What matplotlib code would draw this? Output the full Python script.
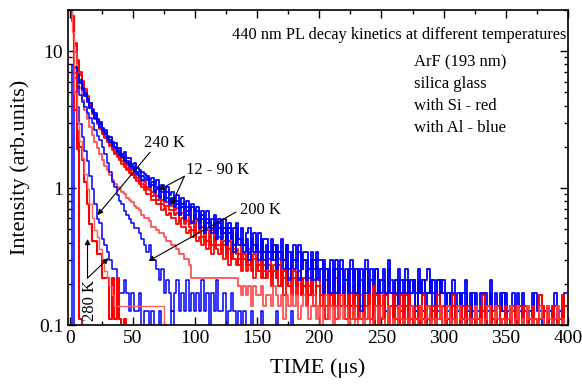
import matplotlib
matplotlib.use('Agg')
import matplotlib.pyplot as plt
import numpy as np
from matplotlib.ticker import MultipleLocator, LogLocator, NullFormatter, FixedFormatter, FixedLocator

plt.rcParams['font.family'] = ['Liberation Serif', 'DejaVu Serif']

# signal is stored as detector counts, one value every 2 us
blue_unit = 0.0425   # intensity of one count, Al-doped glass
red_unit = 0.0275    # intensity of one count, Si-doped glass
step_us = 2

# ---- blue (with Al) ----
blue_12K_t0 = 2
blue_12K = [188, 181, 161, 145, 127, 117, 105, 98, 88, 83,
            75, 72, 65, 63, 57, 56, 51, 50, 46, 46,
            42, 43, 39, 39, 35, 36, 33, 32, 31, 30,
            29, 27, 28, 25, 27, 24, 25, 22, 24, 21,
            22, 19, 21, 18, 20, 17, 19, 16, 18, 16,
            17, 14, 16, 13, 16, 13, 14, 15, 12, 14,
            11, 14, 11, 13, 10, 12, 13, 10, 12, 9,
            11, 12, 9, 11, 8, 11, 8, 10, 10, 8,
            10, 7, 9, 8, 10, 7, 9, 8, 7, 9,
            7, 9, 6, 8, 8, 6, 8, 6, 8, 7,
            7, 5, 6, 4, 7, 5, 6, 4, 7, 5,
            6, 4, 7, 5, 6, 4, 6, 5, 7, 4,
            6, 5, 6, 4, 5, 6, 4, 7, 5, 4,
            5, 6, 4, 5, 6, 4, 5, 5, 4, 6,
            5, 4, 5, 6, 4, 5, 3, 5, 4, 5,
            4, 3, 4, 5, 3, 4, 3, 4, 5, 3,
            4, 3, 4, 2, 4, 3, 4, 3, 5, 3,
            4, 2, 4, 3, 4, 2, 3, 4, 3, 2,
            3, 4, 2, 3, 3, 2, 4, 3, 2, 3,
            2, 3, 3, 2, 4, 3, 2, 3, 2]

blue_60K_t0 = 2
blue_60K = [187, 178, 158, 141, 124, 113, 102, 94, 86, 80,
            73, 69, 64, 60, 56, 53, 50, 47, 45, 43,
            41, 40, 37, 36, 34, 33, 31, 31, 29, 28,
            28, 25, 26, 24, 24, 22, 23, 20, 22, 19,
            20, 18, 19, 17, 18, 16, 17, 15, 17, 14,
            16, 13, 15, 12, 14, 13, 12, 14, 11, 13,
            11, 12, 10, 12, 11, 9, 12, 10, 10, 9,
            10, 8, 10, 9, 9, 8, 10, 7, 9, 8,
            8, 9, 7, 8, 8, 7, 9, 6, 8, 7,
            7, 8, 6, 7, 7, 6, 7, 5, 7, 6,
            6, 7, 5, 6, 4, 5, 7, 4, 6, 5,
            5, 6, 4, 6, 4, 6, 5, 4, 6, 4,
            5, 4, 6, 4, 5, 5, 4, 6, 4, 4,
            5, 3, 5, 5, 4, 5, 4, 5, 3, 5,
            4, 5, 3, 4, 5, 4, 3, 5, 4, 4]

blue_90K_t0 = 2
blue_90K = [186, 176, 155, 138, 122, 110, 100, 91, 84, 77,
            71, 66, 62, 58, 54, 51, 48, 46, 43, 41,
            40, 37, 36, 34, 33, 31, 30, 29, 27, 27,
            27, 24, 25, 22, 23, 20, 22, 19, 20, 18,
            19, 17, 18, 15, 17, 14, 16, 15, 13, 15,
            14, 12, 14, 11, 13, 12, 11, 13, 10, 12,
            10, 11, 9, 11, 10, 8, 11, 9, 10, 8,
            9, 7, 10, 8, 9, 7, 9, 8, 6, 8,
            7, 8, 6, 8, 7, 6, 8, 5, 7, 6,
            7, 5, 6, 7, 5, 6, 5, 7, 6, 5,
            6, 4, 6, 5, 4, 6, 4, 5, 6, 4,
            5, 4, 6, 5, 4, 5, 3, 5, 4, 5,
            5, 3, 4, 5, 4, 5, 3, 5, 4, 3,
            4, 5, 3, 4, 5, 3, 4, 5, 3, 4,
            5, 3, 4, 4, 5, 3, 4, 3, 5, 4,
            3, 4, 2, 4, 3, 3, 4, 2, 4, 3,
            2, 4, 3, 3, 2, 4, 3, 2, 4, 3,
            3, 2, 3, 4, 2, 3, 2, 3, 3, 4,
            2, 3, 3, 2, 3, 4, 2, 2, 3, 3,
            3, 2, 3, 2, 2, 3, 3, 2, 4]

blue_200K_t0 = 2
blue_200K = [188, 150, 130, 113, 100, 92, 83, 77, 70, 63,
             57, 53, 47, 42, 36, 31, 26, 24, 21, 19,
             18, 16, 15, 14, 13, 12, 12, 11, 10, 9,
             8, 9, 7, 7, 6, 5, 6, 4, 5, 4,
             3, 4, 5, 3, 4, 3, 5, 3, 4, 3,
             4, 3, 5, 3, 4, 2, 4, 3, 5, 3,
             3, 4, 2, 3, 4, 3, 2, 3, 2, 3,
             2, 2, 3, 2, 1, 2, 3, 2, 2, 1,
             2, 1, 3, 2, 1, 2, 1, 2, 3, 1,
             1, 2, 1, 1, 2, 1, 1, 1, 1, 1]

blue_240K_t0 = 2
blue_240K = [188, 118, 92, 69, 56, 44, 37, 29, 23, 18,
             14, 13, 10, 9, 8, 7, 6, 6, 5, 4,
             4, 5, 4, 3, 4, 3, 3, 4, 2, 3,
             3, 2, 3, 2, 2, 3, 2, 1, 2, 2,
             3, 1, 2, 2, 1, 2, 1, 2, 1, 1,
             1, 1, 2, 1, 1, 1, 1, 1, 1, 1]

blue_280K_t0 = 0
blue_280K = [1, 188, 2, 1]

# ---- red (with Si) ----
red_12K_t0 = 0
red_12K = [1090, 655, 418, 313, 258, 222, 193, 171, 153, 138,
           125, 115, 105, 98, 90, 84, 79, 74, 69, 65,
           62, 60, 56, 54, 51, 49, 47, 45, 42, 41,
           40, 37, 38, 34, 35, 32, 32, 30, 29, 29,
           27, 27, 25, 26, 23, 24, 21, 23, 20, 21,
           19, 21, 18, 19, 17, 18, 16, 18, 15, 16,
           16, 14, 15, 13, 15, 12, 14, 13, 11, 14,
           12, 11, 13, 10, 12, 11, 10, 12, 9, 11,
           11, 9, 10, 8, 11, 9, 8, 10, 8, 9,
           9, 7, 9, 8, 7, 9, 7, 8, 6, 8,
           8, 6, 7, 5, 8, 6, 7, 5, 8, 6,
           7, 5, 7, 5, 6, 4, 7, 5, 6, 5,
           6, 4, 7, 5, 6, 4, 5, 6, 4, 5,
           6, 4, 5, 6, 3, 5, 6, 4, 5, 3,
           5, 4, 6, 3, 5, 4, 5, 3, 6, 4,
           5, 3, 5, 4, 6, 3, 5, 4, 5, 3,
           5, 4, 3, 5, 4, 3, 6, 4, 3, 5,
           4, 3, 5, 3, 4, 5, 3, 4, 5, 3,
           5, 3, 4, 5, 3, 4, 5, 3, 4, 6,
           4, 3, 5, 3, 4, 5, 3, 4, 3, 5]

red_40K_t0 = 0
red_40K = [1085, 650, 410, 305, 250, 215, 187, 165, 147, 132,
           120, 110, 101, 94, 87, 81, 76, 71, 67, 63,
           60, 57, 54, 51, 49, 47, 45, 43, 40, 39,
           37, 36, 35, 32, 33, 30, 30, 28, 27, 27,
           25, 25, 23, 24, 21, 22, 20, 21, 19, 18,
           19, 17, 18, 16, 17, 15, 16, 14, 16, 14,
           14, 13, 14, 12, 13, 11, 13, 12, 10, 12,
           11, 10, 12, 9, 11, 10, 9, 11, 8, 10,
           10, 8, 9, 8, 10, 7, 9, 8, 7, 9,
           8, 7, 8, 6, 8, 7, 6, 8, 6, 7,
           7, 6, 8, 5, 7, 6, 5, 8, 6, 5,
           7, 5, 6, 4, 7, 5, 6, 4, 6, 5,
           6, 4, 5, 6, 4, 5, 6, 3, 5, 5,
           4, 6, 3, 5, 4, 6, 4, 5, 3, 5,
           4, 5, 3, 5, 4, 4, 5, 3, 4, 5]

red_90K_t0 = 0
red_90K = [1080, 640, 400, 298, 244, 208, 180, 159, 142, 127,
           116, 106, 98, 91, 85, 79, 74, 69, 65, 61,
           58, 55, 52, 49, 47, 45, 43, 41, 39, 37,
           35, 33, 33, 30, 30, 28, 28, 25, 26, 23,
           24, 22, 22, 20, 21, 19, 19, 17, 18, 16,
           18, 15, 16, 14, 16, 13, 15, 12, 14, 13,
           12, 13, 11, 13, 10, 12, 11, 10, 12, 9,
           11, 9, 10, 11, 8, 10, 9, 8, 10, 8,
           9, 7, 9, 8, 7, 9, 6, 8, 7, 6,
           8, 6, 8, 6, 7, 5, 8, 6, 5, 7,
           7, 5, 6, 4, 7, 5, 6, 4, 6, 5,
           6, 4, 6, 5, 4, 6, 4, 5, 6, 4,
           5, 4, 6, 3, 5, 5, 4, 6, 3, 5,
           4, 5, 3, 5, 4, 6, 3, 5, 4, 4,
           5, 3, 4, 5, 3, 5, 4, 3, 5, 4,
           3, 5, 4, 3, 5, 4, 3, 5, 4, 3,
           5, 3, 4, 4, 3, 5, 3, 4, 5, 3,
           4, 3, 5, 4, 3, 4, 3, 5, 3, 4,
           3, 5, 4, 3, 4, 3, 5, 4, 3, 4,
           5, 3, 4, 3, 5, 4, 3, 4, 6, 3]

red_200K_t0 = 0
red_200K = [1090, 600, 360, 250, 195, 160, 135, 116, 101, 89,
            79, 71, 64, 58, 53, 49, 45, 42, 39, 37,
            36, 34, 33, 31, 30, 29, 27, 26, 25, 23,
            22, 22, 21, 19, 19, 18, 17, 17, 16, 15,
            15, 14, 14, 13, 12, 12, 11, 11, 10, 8,
            8, 8, 8, 8, 8, 8, 8, 8, 8, 8,
            8, 8, 8, 8, 8, 8, 8, 8, 7, 6,
            7, 6, 7, 5, 7, 6, 6, 7, 5, 6,
            6, 5, 7, 6, 5, 6, 4, 6, 5, 6,
            5, 6, 4, 5, 6, 5, 4, 5, 6, 4,
            5, 3, 5, 6, 4, 5, 3, 5, 4, 6,
            4, 5, 3, 4, 5, 3, 4, 6, 3, 4,
            5, 3, 4, 5, 3, 5, 4, 3, 5, 3,
            4, 3, 5, 4, 3, 4, 3, 5, 4, 3,
            4, 5, 3, 4, 5, 3, 4, 3, 4, 5,
            3, 4, 5, 3, 4, 3, 5, 4, 3, 4,
            4, 3, 4, 5, 3, 4, 3, 4, 5, 3,
            3, 5, 4, 3, 4, 3, 4, 5, 3, 4,
            5, 3, 4, 3, 5, 4, 3, 4, 3, 5,
            4, 3, 5, 4, 3, 4, 5, 3, 4, 3]

red_240K_t0 = 0
red_240K = [1090, 600, 135, 95, 72, 58, 40, 28, 20, 15,
            15, 12, 12, 8, 8, 8, 4, 8, 4, 8,
            4, 3, 4, 3, 3]

red_280K_t0 = 0
red_280K = [1090, 655, 250, 70, 4, 2]

red_280K_b_t0 = 0
red_280K_b = [1090, 500, 180, 110, 80, 60, 46, 36, 28, 22,
              18, 16, 13, 11, 9, 8, 7, 6, 5, 5,
              5, 5, 5, 5, 5, 5, 5, 5, 5, 5,
              5, 5, 5, 5, 5, 5, 5, 5, 3]

labels = ['240 K', '12 - 90 K', '200 K', '280 K']

fig = plt.figure(figsize=(5.82, 3.91), dpi=100)
ax = fig.add_axes([68 / 582, 66 / 391, 500 / 582, 315 / 391])


def draw(t0, counts, unit, color, lw=1.3, alpha=1.0, start=0):
    t = t0 + step_us * np.arange(len(counts))
    y = np.array(counts) * unit
    ax.plot(t[start:], y[start:], color=color, lw=lw, alpha=alpha,
            drawstyle='steps-mid')


# red underneath, blue on top, then the red noise tail on top again
draw(red_12K_t0, red_12K, red_unit, 'red')
draw(red_40K_t0, red_40K, red_unit, 'red')
draw(red_90K_t0, red_90K, red_unit, 'red')
draw(red_200K_t0, red_200K, red_unit, '#ff4040', alpha=0.9)
draw(blue_12K_t0, blue_12K, blue_unit, 'blue')
draw(blue_60K_t0, blue_60K, blue_unit, 'blue')
draw(blue_90K_t0, blue_90K, blue_unit, 'blue')
draw(red_12K_t0, red_12K, red_unit, 'red', start=120)
draw(red_90K_t0, red_90K, red_unit, 'red', start=120)
draw(red_200K_t0, red_200K, red_unit, '#ff4040', alpha=0.9, start=120)
draw(blue_200K_t0, blue_200K, blue_unit, 'blue', lw=1.1)
draw(blue_240K_t0, blue_240K, blue_unit, 'blue', lw=1.1)
draw(blue_280K_t0, blue_280K, blue_unit, 'blue', lw=1.1)
draw(red_240K_t0, red_240K, red_unit, 'red', lw=1.5)
draw(red_280K_t0, red_280K, red_unit, 'red', lw=1.5)
draw(red_280K_b_t0, red_280K_b, red_unit, '#ff6060', lw=1.0)

ax.set_yscale('log')
ax.set_xlim(-2, 400)
ax.set_ylim(0.1, 20)

ax.xaxis.set_major_locator(MultipleLocator(50))
ax.xaxis.set_minor_locator(MultipleLocator(25))
ax.yaxis.set_major_locator(FixedLocator([0.1, 1, 10]))
ax.yaxis.set_major_formatter(FixedFormatter(['0.1', '1', '10']))
ax.yaxis.set_minor_locator(LogLocator(base=10, subs=np.arange(2, 10)))
ax.yaxis.set_minor_formatter(NullFormatter())
ax.tick_params(which='both', direction='in', top=True, right=True, labelsize=14, width=1)
ax.tick_params(which='major', length=6)
ax.tick_params(which='minor', length=3)
for s in ax.spines.values():
    s.set_linewidth(1.2)

ax.set_xlabel('TIME (μs)', fontsize=16, labelpad=8)
ax.set_ylabel('Intensity (arb.units)', fontsize=16, labelpad=6)

ax.text(0.328, 0.921, '440 nm PL decay kinetics at different temperatures',
        transform=ax.transAxes, fontsize=11.8, va='center')
for i, s in enumerate(['ArF (193 nm)', 'silica glass', 'with Si - red', 'with Al - blue']):
    ax.text(0.692, 0.835 - 0.07 * i, s, transform=ax.transAxes, fontsize=12, va='center')

arrow = dict(arrowstyle='-|>', color='black', lw=0.8, shrinkA=0, shrinkB=0, mutation_scale=8)
ax.text(59, 2.13, labels[0], fontsize=12, va='center')
ax.annotate('', xy=(21.7, 0.635), xytext=(64, 1.83), arrowprops=arrow)
ax.text(93, 1.35, labels[1], fontsize=12, va='center')
ax.annotate('', xy=(70.7, 0.967), xytext=(91.6, 1.22), arrowprops=arrow)
ax.annotate('', xy=(81, 0.75), xytext=(91.6, 1.22), arrowprops=arrow)
ax.text(136.5, 0.69, labels[2], fontsize=12, va='center')
ax.annotate('', xy=(62.7, 0.293), xytext=(133, 0.668), arrowprops=arrow)
ax.text(16, 0.152, labels[3], fontsize=12, va='center', ha='center', rotation=90,
        bbox=dict(facecolor='white', edgecolor='none', pad=0.5))
ax.annotate('', xy=(13.7, 0.425), xytext=(13.7, 0.22), arrowprops=arrow)
ax.annotate('', xy=(30.5, 0.308), xytext=(13.7, 0.22), arrowprops=arrow)

fig.savefig('out.png', dpi=100)
